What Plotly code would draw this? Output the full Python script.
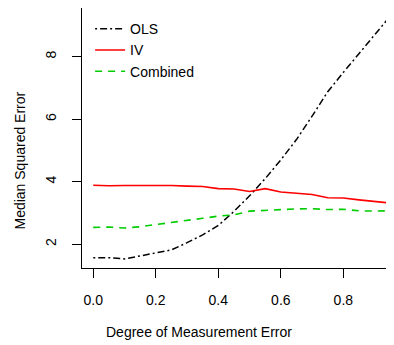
import plotly.graph_objects as go

# degree of measurement error
err = [0.00, 0.05, 0.10, 0.15, 0.20, 0.25, 0.30, 0.35, 0.40, 0.45,
       0.50, 0.55, 0.60, 0.65, 0.70, 0.75, 0.80, 0.85, 0.90, 0.95]

ols = [1.57, 1.57, 1.53, 1.62, 1.73, 1.82, 2.05, 2.30, 2.60, 3.05,
       3.55, 4.10, 4.70, 5.35, 6.10, 6.88, 7.50, 8.10, 8.70, 9.30]
iv = [3.89, 3.87, 3.88, 3.88, 3.90, 3.88, 3.86, 3.85, 3.78, 3.77,
      3.69, 3.78, 3.67, 3.64, 3.59, 3.49, 3.48, 3.42, 3.38, 3.32]
combined = [2.54, 2.55, 2.52, 2.56, 2.63, 2.69, 2.77, 2.83, 2.90, 2.94,
            3.06, 3.09, 3.10, 3.13, 3.14, 3.11, 3.12, 3.07, 3.06, 3.07]

xticks = [0.0, 0.2, 0.4, 0.6, 0.8]
xticklabels = ["0.0", "0.2", "0.4", "0.6", "0.8"]
yticks = [2, 4, 6, 8]

fnt = "Liberation Sans, Arial, sans-serif"

fig = go.Figure()
fig.add_trace(go.Scatter(x=err, y=ols, mode="lines", name="OLS",
                         line=dict(color="black", width=1.5, dash="2px,3px,7px,3px")))
fig.add_trace(go.Scatter(x=err, y=iv, mode="lines", name="IV",
                         line=dict(color="#ff0000", width=1.6)))
fig.add_trace(go.Scatter(x=err, y=combined, mode="lines", name="Combined",
                         line=dict(color="#00cd00", width=1.6, dash="7px,6px")))

# page body has an 8px margin, so the figure is sized to the remaining area
fig.update_layout(
    template="none",
    width=386, height=337,
    margin=dict(l=74, r=0, t=0, b=77, autoexpand=False),
    plot_bgcolor="white", paper_bgcolor="white",
    font=dict(family=fnt, size=14, color="black"),
    showlegend=True,
    legend=dict(x=0.026, y=0.98, xanchor="left", yanchor="top",
                bgcolor="rgba(0,0,0,0)", borderwidth=0,
                font=dict(size=14), tracegroupgap=0),
    xaxis=dict(range=[-0.036, 0.962], tickvals=xticks, ticktext=xticklabels,
               automargin=False,
               showgrid=False, zeroline=False, showline=True, mirror=True,
               linecolor="black", linewidth=1, ticks="outside", ticklen=9,
               tickcolor="black", ticklabelstandoff=10),
    yaxis=dict(range=[1.24, 9.56], tickvals=yticks, tickangle=-90,
               automargin=False,
               showgrid=False, zeroline=False, showline=True, mirror=False,
               linecolor="black", linewidth=1, ticks="outside", ticklen=9,
               tickcolor="black", ticklabelstandoff=10),
)

fig.add_annotation(text="Degree of Measurement Error", xref="paper", yref="paper",
                   x=0.375, y=-0.245, xanchor="center", yanchor="middle",
                   showarrow=False, font=dict(size=14))
fig.add_annotation(text="Median Squared Error", xref="paper", yref="paper",
                   x=-0.199, y=0.413, xanchor="center", yanchor="middle",
                   textangle=-90, showarrow=False, font=dict(size=14))

fig.write_html("out.html")
